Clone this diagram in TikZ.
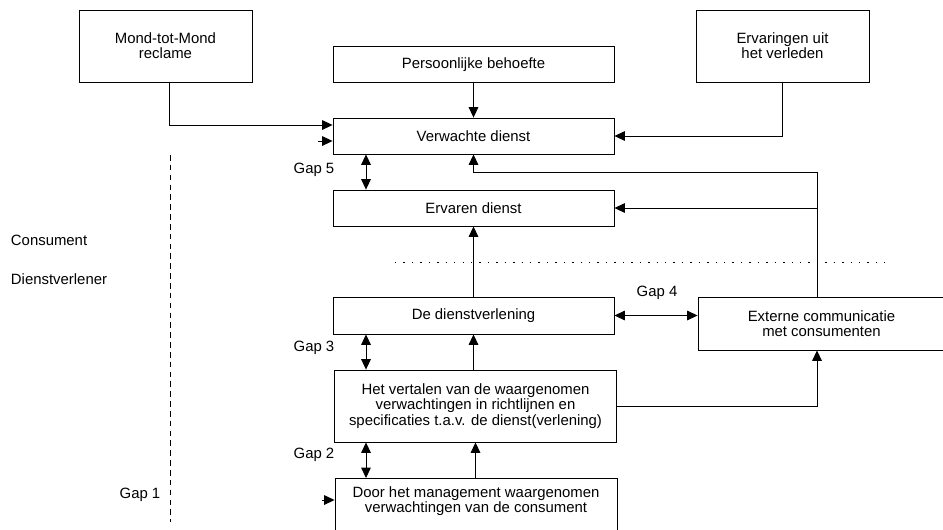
\documentclass[tikz,border=0pt]{standalone}
\usepackage{fontspec}
\setmainfont{Liberation Sans}
\usetikzlibrary{arrows.meta}

\begin{document}
\begin{tikzpicture}[x=0.025cm, y=-0.025cm,
		font=\fontsize{10.6}{10.8}\selectfont,
		vak/.style={draw, line width=0.6pt, align=center, inner sep=0pt, minimum width=7.025cm, minimum height=0.9cm},
		bron/.style={vak, minimum width=4.325cm, minimum height=1.8cm},
		pijl/.style={line width=0.6pt, -{Triangle[length=2.6mm, width=2.4mm]}},
		dubbel/.style={line width=0.6pt, {Triangle[length=2.6mm, width=2.4mm]}-{Triangle[length=2.6mm, width=2.4mm]}},
		stip/.style={line width=0.5pt, dash pattern=on 4pt off 3pt}]

		\useasboundingbox (0,0) rectangle (943,529);

		\node[bron] (mond) at (165.5,46) {Mond-tot-Mond\\reclame};
		\node[vak] (behoefte) at (473.5,64.5) {Persoonlijke behoefte};
		\node[bron] (verleden) at (782.5,46) {Ervaringen uit\\het verleden};
		\node[vak] (verwacht) at (473.5,136) {Verwachte dienst};
		\node[vak] (ervaren) at (473.5,208) {Ervaren dienst};
		\node[vak, minimum height=0.925cm] (levering) at (473.5,315.5) {De dienstverlening};
		\node[vak, minimum width=6.175cm, minimum height=1.325cm] (extern) at (821.5,323.5) {Externe communicatie\\met consumenten};
		\node[vak, minimum width=7.05cm, minimum height=1.8cm] (vertalen) at (475.5,406) {Het vertalen van de waargenomen\\verwachtingen in richtlijnen en\\specificaties t.a.v. de dienst(verlening)};
		\node[vak, minimum width=7.05cm, minimum height=2cm, anchor=north] (beheer) at (476,478) {};
		\node[align=center] (beheertekst) at (476,501) {Door het management waargenomen\\verwachtingen van de consument};

		\node (consument) [anchor=west] at (6,240) {Consument};
		\node (dienstverlener) [anchor=west] at (6,279) {Dienstverlener};
		\node (gap5) at (314,170) {Gap 5};
		\node (gap4) at (657,293) {Gap 4};
		\node (gap3) at (314,348) {Gap 3};
		\node (gap2) at (314,455) {Gap 2};
		\node (gap1) at (140,495) {Gap 1};

		\coordinate (mm) at (169,125);
		\coordinate (knik) at (817,172);
		\coordinate (gx) at (366,0);
		\coordinate (g1a) at (318,141);
		\coordinate (g1b) at (322,500);

		\draw[pijl] (mond.south -| mm) -- (mm) -- (mm -| verwacht.west);
		\draw[pijl] (g1a) -- (g1a -| verwacht.west);
		\draw[pijl] (behoefte.south) -- (verwacht.north);
		\draw[pijl] (verleden.south) |- (verwacht.east);
		\draw[pijl] (knik |- extern.north) -- (knik) -| (verwacht.south);
		\draw[pijl] (knik |- ervaren.east) -- (ervaren.east);
		\draw[pijl] (levering.north) -- (ervaren.south);
		\draw[pijl] (vertalen.north -| levering.south) -- (levering.south);
		\draw[pijl] (vertalen.east) -| (knik |- extern.south);
		\draw[pijl] (beheer.north -| vertalen.south) -- (vertalen.south);
		\draw[pijl] (g1b) -- (g1b -| beheer.west);

		\draw[dubbel] (gx |- verwacht.south) -- (gx |- ervaren.north);
		\draw[dubbel] (gx |- levering.south) -- (gx |- vertalen.north);
		\draw[dubbel] (gx |- vertalen.south) -- (gx |- beheer.north);
		\draw[dubbel] (levering.east) -- (levering.east -| extern.west);

		\draw[stip] (170,155) -- (170,522);
		\draw[line width=0.5pt, dash pattern=on 1pt off 5pt] (395,262) -- (885,262);

\end{tikzpicture}
\end{document}
